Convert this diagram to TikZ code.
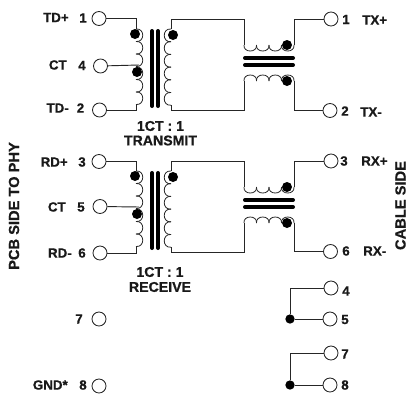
\documentclass[tikz,border=0pt]{standalone}
\usepackage{fontspec}
\setmainfont[BoldFeatures={FakeBold=0.8}]{Liberation Sans}
\tikzset{
  x=0.75pt,y=-0.75pt,
  pin/.style={circle,draw=black!85,line width=0.65pt,fill=white,minimum size=10.5pt,inner sep=0pt},
  lbl/.style={font=\bfseries\fontsize{10}{11}\selectfont,inner sep=0pt,text=black!90},
  captxt/.style={font=\bfseries\fontsize{10.6}{12}\selectfont,inner sep=0pt,text=black!90},
  sidetxt/.style={font=\bfseries\fontsize{11}{12}\selectfont,inner sep=0pt,text=black!90,rotate=90},
  wire/.style={draw=black!85,line width=0.7pt},
  coilw/.style={draw=black!85,line width=0.6pt},
  dotj/.style={circle,fill=black,inner sep=0pt,minimum size=7.5pt},
  smalldot/.style={circle,fill=black,inner sep=0pt,minimum size=7pt},
  corebar/.style={draw=black,line width=3pt,line cap=round},
}
\newcommand{\vcoil}[5]{%
  \foreach \k in {1,...,#4}{%
    \draw[coilw] ({#1},{#2+(\k-1)*#3}) .. controls ({#1+#5*9},{#2+(\k-1)*#3-1}) and ({#1+#5*9},{#2+\k*#3+1}) .. ({#1},{#2+\k*#3});
  }}
\newcommand{\hcoil}[5]{%
  \foreach \k in {1,...,#4}{%
    \draw[coilw] ({#2+(\k-1)*#3},{#1}) .. controls ({#2+(\k-1)*#3-1},{#1+#5*8}) and ({#2+\k*#3+1},{#1+#5*8}) .. ({#2+\k*#3},{#1});
  }}
\newcommand{\xfmr}[2]{%
\begin{scope}[yshift=#2*-0.75pt]
  \coordinate (#1tl) at (136,29);
  \coordinate (#1bl) at (136,105);
  \coordinate (#1ct) at (139,65);
  \coordinate (#1rt) at (171,29);
  \coordinate (#1rb) at (171,105);
  \coordinate (#1ul) at (244,45);
  \coordinate (#1ur) at (294,45);
  \coordinate (#1ll) at (244,81);
  \coordinate (#1lr) at (294,81);
  \vcoil{136}{29}{12.5}{3}{1}
  \vcoil{136}{67}{12.5}{3}{1}
  \vcoil{171}{29}{12.7}{6}{-1}
  \hcoil{45}{244}{12.5}{4}{1}
  \hcoil{81}{244}{12.5}{4}{-1}
  \draw[corebar] (152,31) -- (152,106);
  \draw[corebar] (158,31) -- (158,106);
  \draw[corebar] (245,58) -- (293,58);
  \draw[corebar] (245,65) -- (293,65);
  \node[dotj] (#1d1) at (135,34) {};
  \node[dotj] (#1d2) at (137,72) {};
  \node[dotj] (#1d3) at (173,35) {};
  \node[dotj] (#1d4) at (287,45) {};
  \node[dotj] (#1d5) at (287,81) {};
\end{scope}}
\begin{document}
\begin{tikzpicture}
\useasboundingbox (0,0) rectangle (407,397);
\xfmr{a}{0}
\xfmr{b}{142}
% pins transformer A
\node[pin] (p1) at (99,18.5) {};
\node[pin] (p4) at (100.5,66) {};
\node[pin] (p2) at (99.5,110) {};
\node[pin] (s1) at (331,19) {};
\node[pin] (s2) at (330,110.5) {};
\draw[wire] (p1) -- (136,18.5) -- (atl);
\draw[wire] (p2) -- (136,110) -- (abl);
\draw[wire] (p4) -- (act);
\draw[wire] (s1) -- (294,19) -- (aur);
\draw[wire] (s2) -- (294,110.5) -- (alr);
\draw[wire] (art) -- (171,19) -- (244,19) -- (aul);
\draw[wire] (arb) -- (171,110) -- (244,110) -- (all);
% pins transformer B
\node[pin] (p3) at (99,161.5) {};
\node[pin] (p5) at (100,206.5) {};
\node[pin] (p6) at (100,253) {};
\node[pin] (s3) at (331,161) {};
\node[pin] (s6) at (330.5,251.5) {};
\draw[wire] (p3) -- (136,161.5) -- (btl);
\draw[wire] (p6) -- (136,253) -- (bbl);
\draw[wire] (p5) -- (bct);
\draw[wire] (s3) -- (294,161) -- (bur);
\draw[wire] (s6) -- (294,251.5) -- (blr);
\draw[wire] (brt) -- (171,161) -- (244,161) -- (bul);
\draw[wire] (brb) -- (171,252) -- (244,252) -- (bll);
% lower pins
\node[pin] (p7) at (99,319) {};
\node[pin] (p8) at (99,386) {};
\node[pin] (s4) at (331,288) {};
\node[pin] (s5) at (330,319) {};
\node[pin] (s7) at (331,353) {};
\node[pin] (s8) at (330,385) {};
\node[smalldot] (j5) at (290,319) {};
\node[smalldot] (j8) at (290,385) {};
\draw[wire] (j5) -- (290,288) -- (s4);
\draw[wire] (j5) -- (s5);
\draw[wire] (j8) -- (290,353) -- (s7);
\draw[wire] (j8) -- (s8);
% left labels
\node[lbl,anchor=east] (t1) at (69,17.5) {TD+};
\node[lbl] (n1) at (83,18) {1};
\node[lbl,anchor=east] (t4) at (67,65) {CT};
\node[lbl] (n4) at (82,65.5) {4};
\node[lbl,anchor=east] (t2) at (69,108) {TD-};
\node[lbl] (n2) at (80.5,108) {2};
\node[lbl,anchor=east] (t3) at (68,162) {RD+};
\node[lbl] (n3) at (82,162) {3};
\node[lbl,anchor=east] (t5) at (66,207) {CT};
\node[lbl] (n5) at (81,207) {5};
\node[lbl,anchor=east] (t6) at (72,253) {RD-};
\node[lbl] (n6) at (82,253) {6};
\node[lbl] (n7) at (79,319) {7};
\node[lbl,anchor=east] (t8) at (68,385) {GND*};
\node[lbl] (n8) at (83,385) {8};
% right labels
\node[lbl] (r1) at (346,19.5) {1};
\node[lbl,anchor=west] (x1) at (362,20) {TX+};
\node[lbl] (r2) at (345,111) {2};
\node[lbl,anchor=west] (x2) at (360,112) {TX-};
\node[lbl] (r3) at (344,161) {3};
\node[lbl,anchor=west] (x3) at (361,161) {RX+};
\node[lbl] (r6) at (346,251) {6};
\node[lbl,anchor=west] (x6) at (363,251) {RX-};
\node[lbl] (r4) at (346,291) {4};
\node[lbl] (r5) at (345,319.5) {5};
\node[lbl] (r7) at (345,354) {7};
\node[lbl] (r8) at (345,385) {8};
% captions
\node[captxt] (c1) at (160.5,126) {1CT : 1};
\node[captxt] (c2) at (160.5,140.5) {TRANSMIT};
\node[captxt] (c3) at (160,272) {1CT : 1};
\node[captxt] (c4) at (160,287) {RECEIVE};
\node[sidetxt] (sl) at (14,206) {PCB SIDE TO PHY};
\node[sidetxt] (sr) at (400.5,205.5) {CABLE SIDE};
\end{tikzpicture}
\end{document}
